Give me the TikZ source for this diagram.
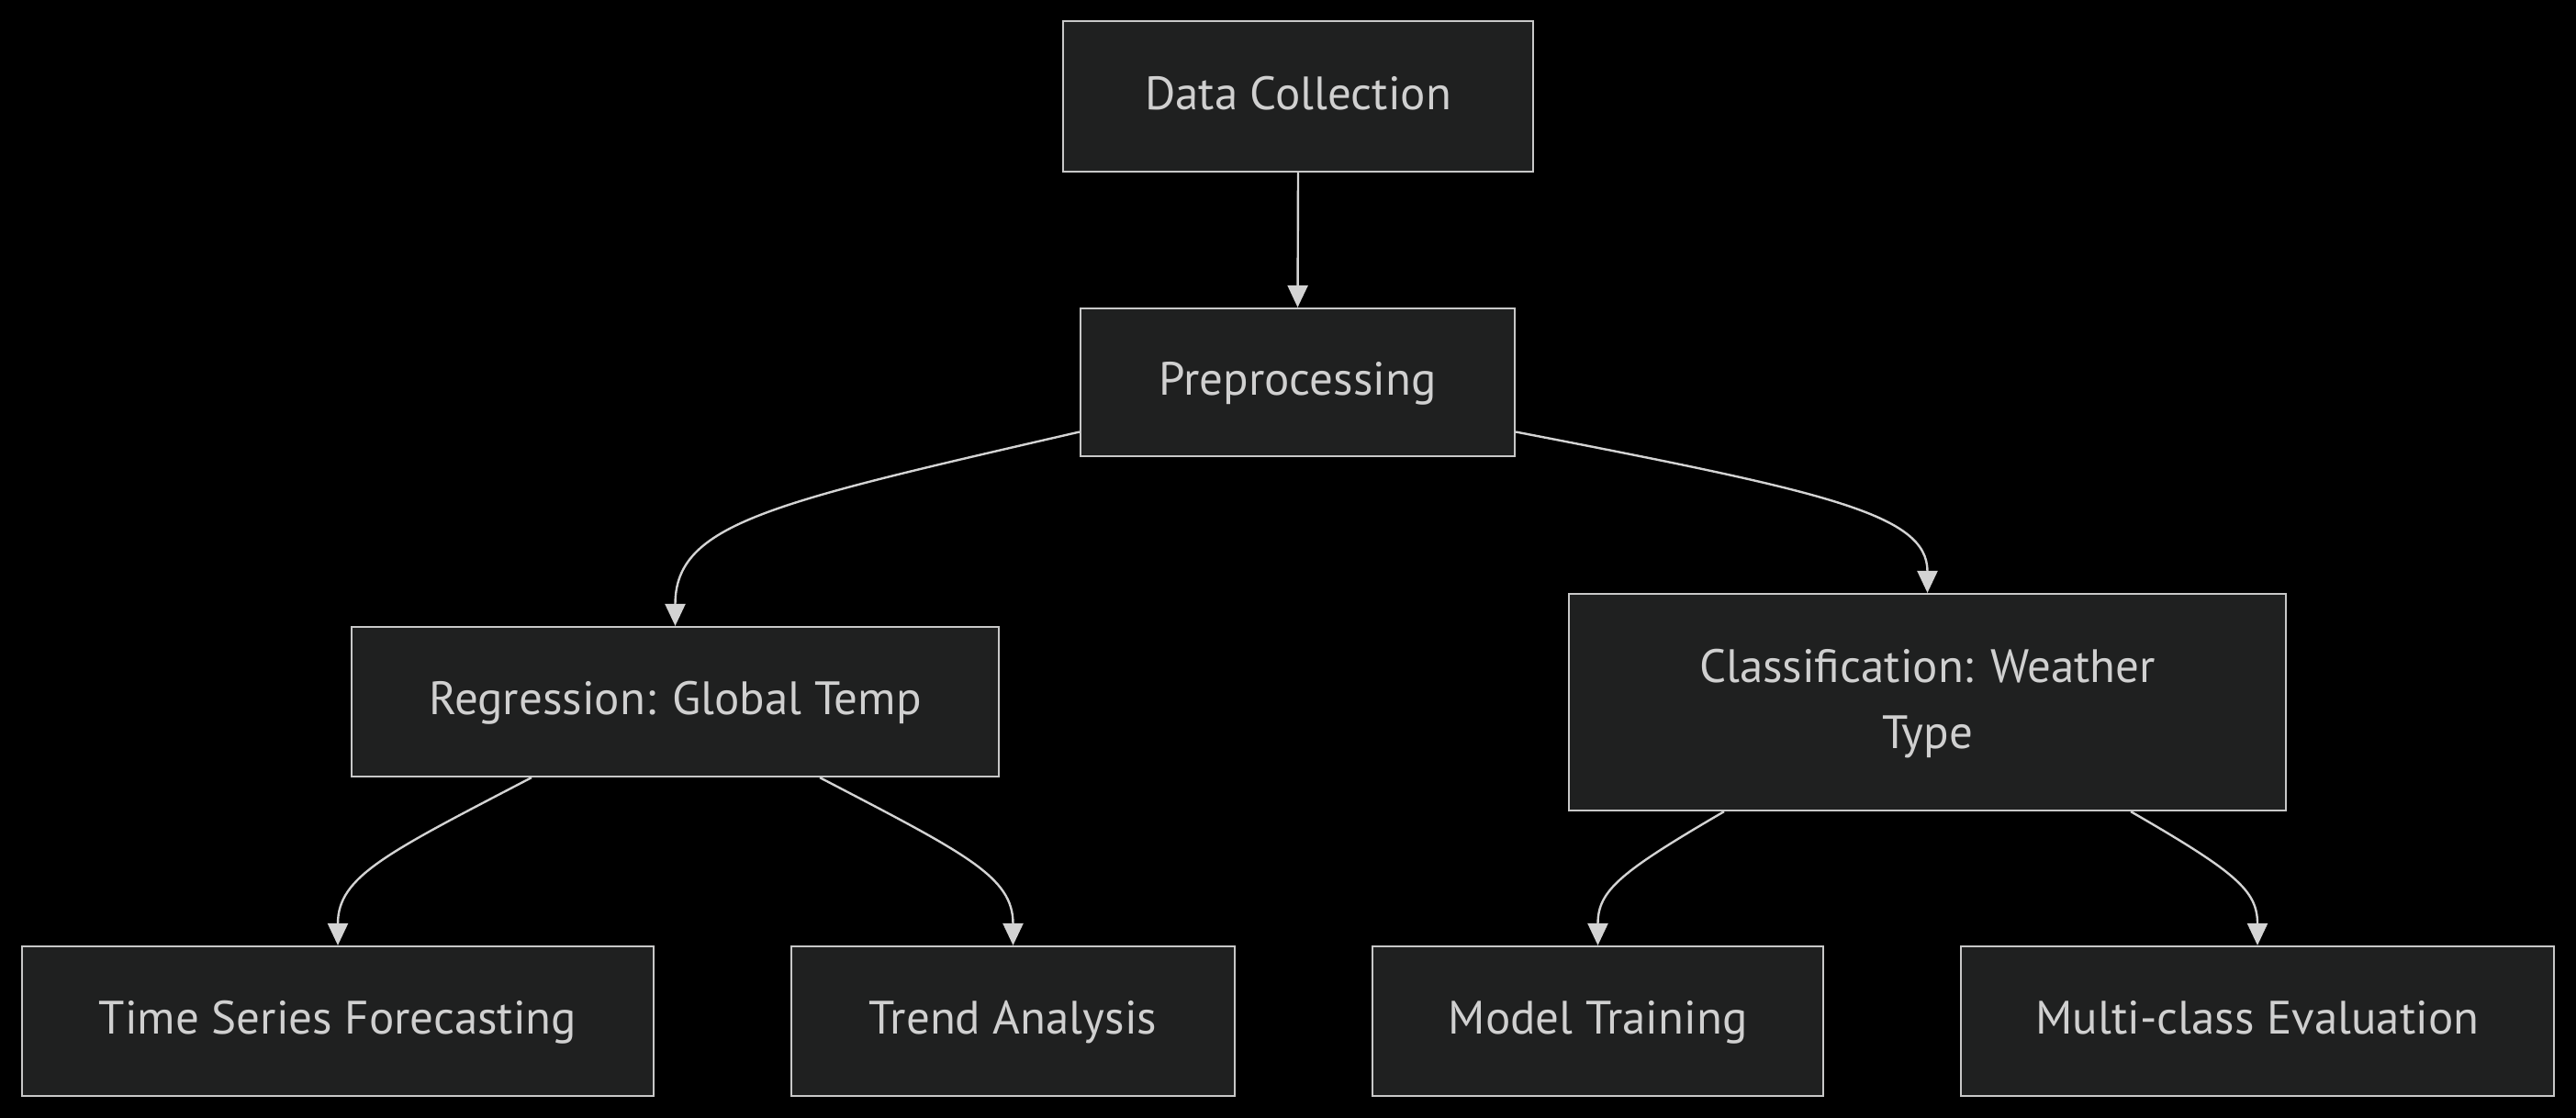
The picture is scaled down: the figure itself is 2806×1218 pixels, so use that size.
\documentclass[tikz,border=0pt]{standalone}
\usepackage{fontspec}
\setmainfont{PT Sans}
\usetikzlibrary{arrows.meta}
\definecolor{boxfill}{HTML}{1F2020}
\definecolor{boxline}{HTML}{C8C8C8}
\definecolor{txt}{HTML}{D0D0D0}
\definecolor{edge}{HTML}{D3D3D3}
\begin{document}
\begin{tikzpicture}[x=1pt,y=-1pt,
  box/.style={draw=boxline,fill=boxfill,line width=2.2pt,inner sep=0pt,
    text=txt,font=\fontsize{51pt}{72pt}\selectfont,align=center,minimum height=163pt},
  link/.style={draw=edge,line width=2.4pt,-{Triangle[width=22pt,length=24pt]}}]
\fill[black] (0,0) rectangle (2806,1218);
\useasboundingbox (0,0) rectangle (2806,1218);
\node[box,minimum width=512pt,minimum height=164pt] (dc) at (1414,105) {\strut Data Collection};
\node[box,minimum width=473pt,minimum height=161pt] (pre) at (1413.5,416.5) {\strut Preprocessing};
\node[box,minimum width=705pt] (reg) at (735.5,764.5) {\strut Regression: Global Temp};
\node[box,minimum width=781pt,minimum height=236pt] (cls) at (2099.5,765) {\strut Classification: Weather\\\strut Type};
\node[box,minimum width=688pt] (ts) at (368,1112.5) {\strut Time Series Forecasting};
\node[box,minimum width=483pt] (tr) at (1103.5,1112.5) {\strut Trend Analysis};
\node[box,minimum width=491pt] (mt) at (1740.5,1112.5) {\strut Model Training};
\node[box,minimum width=646pt] (mc) at (2459,1112.5) {\strut Multi-class Evaluation};
\draw[link] (dc.south) -- (pre.north);
\draw[link] ([yshift=-54pt]pre.west) .. controls (840,548) and (735.5,570) .. (reg.north);
\draw[link] ([yshift=-54pt]pre.east) .. controls (1990,536) and (2099.5,560) .. (cls.north);
\draw[link] ([xshift=-156.5pt]reg.south) .. controls (420,930) and (368,955) .. (ts.north);
\draw[link] ([xshift=157.5pt]reg.south) .. controls (1052,930) and (1103.5,955) .. (tr.north);
\draw[link] ([xshift=-221.5pt]cls.south) .. controls (1765,950) and (1740.5,970) .. (mt.north);
\draw[link] ([xshift=221.5pt]cls.south) .. controls (2435,950) and (2459,970) .. (mc.north);
\end{tikzpicture}
\end{document}
